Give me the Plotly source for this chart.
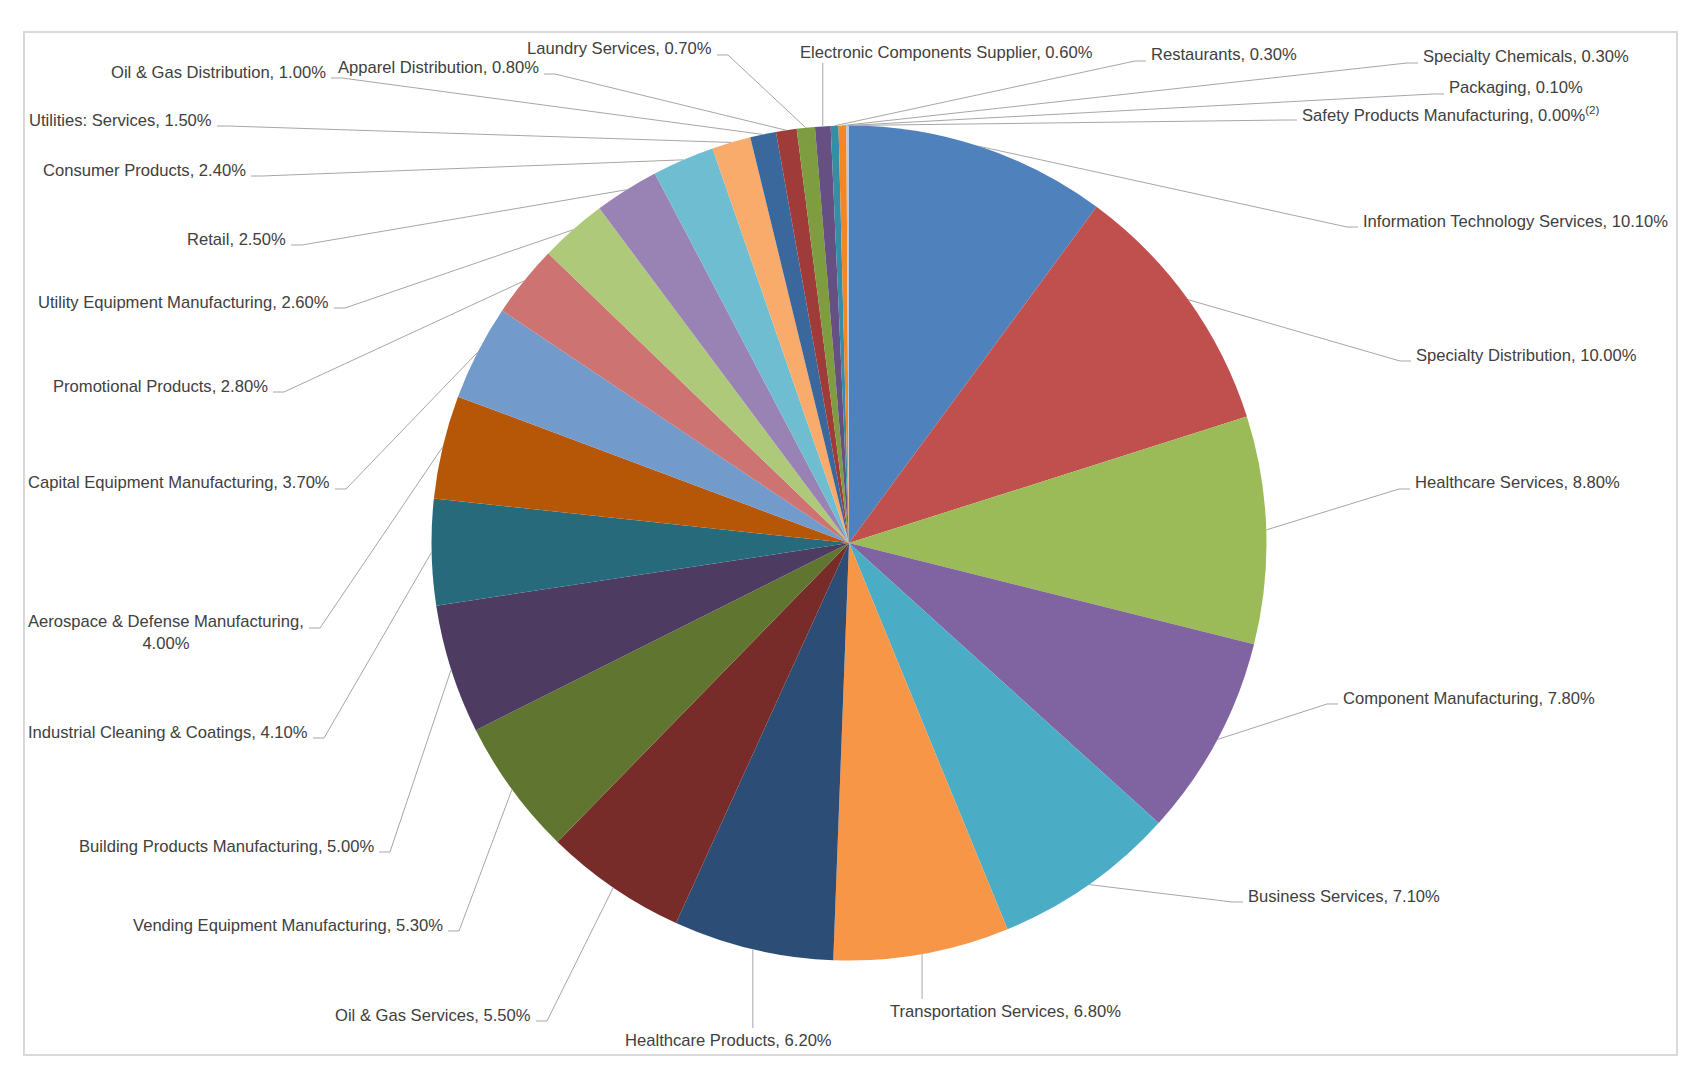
import math
import plotly.graph_objects as go

W, H = 1696, 1070

categories = [
    "Information Technology Services", "Specialty Distribution", "Healthcare Services",
    "Component Manufacturing", "Business Services", "Transportation Services",
    "Healthcare Products", "Oil & Gas Services", "Vending Equipment Manufacturing",
    "Building Products Manufacturing", "Industrial Cleaning & Coatings",
    "Aerospace & Defense Manufacturing", "Capital Equipment Manufacturing",
    "Promotional Products", "Utility Equipment Manufacturing", "Retail",
    "Consumer Products", "Utilities: Services", "Oil & Gas Distribution",
    "Apparel Distribution", "Laundry Services", "Electronic Components Supplier",
    "Restaurants", "Specialty Chemicals", "Packaging", "Safety Products Manufacturing",
]
values = [10.1, 10.0, 8.8, 7.8, 7.1, 6.8, 6.2, 5.5, 5.3, 5.0, 4.1, 4.0, 3.7,
          2.8, 2.6, 2.5, 2.4, 1.5, 1.0, 0.8, 0.7, 0.6, 0.3, 0.3, 0.1, 0.0]
label_suffix = [""] * 25 + ["<sup>(2)</sup>"]

colors = ["#4F81BD", "#C0504D", "#9BBB59", "#8064A2", "#4BACC6", "#F79646",
          "#2C4D75", "#772C2A", "#5F7530", "#4D3B62", "#276A7C", "#B65708",
          "#729ACA", "#CD7371", "#AFC97A", "#9983B5", "#6FBDD1", "#F9AB6B",
          "#3A679C", "#9F3B38", "#7E9C40", "#664F83", "#358EA6", "#F38725",
          "#B7C9DE", "#D99694"]

# label placement (pixels): x, y, side
label_pos = [
    (1361, 221, "R"), (1414, 355, "R"), (1413, 483, "R"), (1341, 698, "R"),
    (1246, 896, "R"), (1005, 1011, "B"), (728, 1040, "B"), (533, 1015, "L"),
    (445, 925, "L"), (376, 846, "L"), (310, 732, "L"), (306, 632, "L"),
    (332, 483, "L"), (270, 386, "L"), (331, 302, "L"), (288, 239, "L"),
    (248, 170, "L"), (214, 120, "L"), (328, 72, "L"), (541, 68, "L"),
    (714, 49, "L"), (798, 52, "T"), (1149, 55, "R"), (1421, 57, "R"),
    (1447, 88, "R"), (1300, 114, "R"),
]

# pie geometry (pixels)
CX, CY, R = 849, 543, 417.5

fig = go.Figure()
fig.add_trace(go.Pie(
    labels=categories, values=values, sort=False, direction="clockwise",
    rotation=0, textinfo="none", hoverinfo="label+percent",
    marker=dict(colors=colors, line=dict(width=0)),
    domain=dict(x=[(CX - R) / W, (CX + R) / W], y=[1 - (CY + R) / H, 1 - (CY - R) / H]),
    showlegend=False,
))

def px(x, y):
    return x / W, 1 - y / H

shapes = []
annotations = []
total = sum(values)
cum = 0.0
line_col = "#a6a6a6"
for name, v, suf, (lx, ly, side) in zip(categories, values, label_suffix, label_pos):
    mid = (cum + v / 2) / total
    cum += v
    ang = 2 * math.pi * mid
    ex = CX + R * math.sin(ang)
    ey = CY - R * math.cos(ang)
    text = f"{name}, {v:.2f}%{suf}"
    if name.startswith("Aerospace"):
        text = f"{name},<br>{v:.2f}%"
        cy = ly - 4
    else:
        cy = ly + 6
    if side == "L":
        pts = [(ex, ey), (lx + 14, cy), (lx + 3, cy)]
        xanchor = "right"
    elif side == "R":
        pts = [(ex, ey), (lx - 14, cy), (lx - 3, cy)]
        xanchor = "left"
    elif side == "B":
        pts = [(ex, ey), (ex, ly - 12)]
        xanchor = "center"
    else:
        pts = [(ex, ey), (ex, ly + 11)]
        xanchor = "left"
    path = "M " + " L ".join(f"{px(a, b)[0]:.5f},{px(a, b)[1]:.5f}" for a, b in pts)
    shapes.append(dict(type="path", xref="paper", yref="paper", path=path,
                       line=dict(color=line_col, width=1)))
    ax, ay = px(lx, ly)
    annotations.append(dict(x=ax, y=ay, xref="paper", yref="paper", text=text,
                            showarrow=False, xanchor=xanchor, yanchor="middle",
                            align="center",
                            font=dict(family="Liberation Sans", size=16.6, color="#404040")))

# chart frame
x0, y0 = px(24, 32)
x1, y1 = px(1677, 1055)
shapes.append(dict(type="rect", xref="paper", yref="paper", x0=x0, y0=y1, x1=x1, y1=y0,
                   line=dict(color="#d9d9d9", width=2)))

fig.update_layout(
    width=W, height=H, margin=dict(l=0, r=0, t=0, b=0),
    paper_bgcolor="white", plot_bgcolor="white",
    shapes=shapes, annotations=annotations,
)
fig.write_html("out.html")
